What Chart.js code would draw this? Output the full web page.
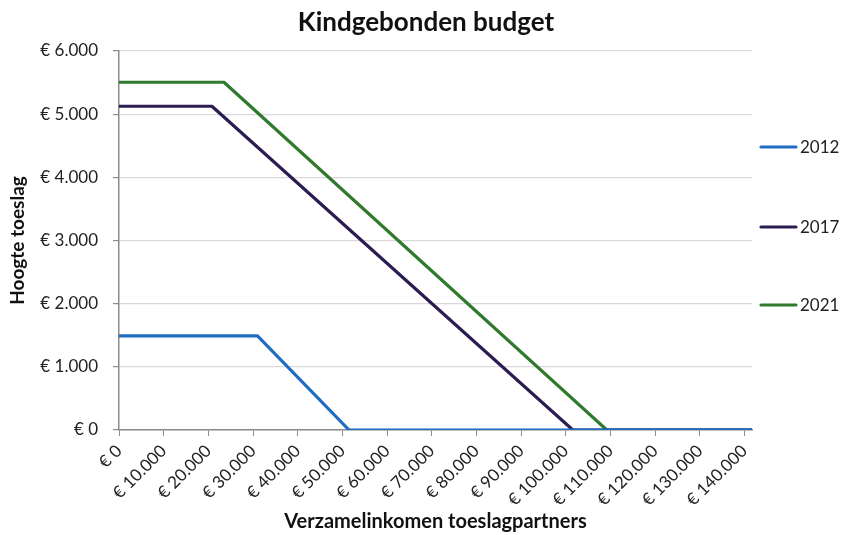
<!DOCTYPE html>
<html>
<head>
<meta charset="utf-8">
<script src="https://cdn.jsdelivr.net/npm/chart.js@4"></script>
<style>
html,body{margin:0;padding:0;background:#fff;}
#wrap{width:853px;height:535px;position:relative;}
</style>
</head>
<body>
<div id="wrap"><canvas id="c" width="853" height="535"></canvas></div>
<script>
const chartTitle = "Kindgebonden budget";
const xTitle = "Verzamelinkomen toeslagpartners";
const yTitle = "Hoogte toeslag";
const seriesNames = ["2012", "2017", "2021"];
const seriesColors = ["#1f6cc2", "#2c1c52", "#2f7a2c"];
// income breakpoints (x) and allowance (y) per series
const x2012 = [0, 31000, 51500, 141700];
const y2012 = [1490, 1490, 0, 0];
const x2017 = [0, 20800, 101600, 141700];
const y2017 = [5125, 5125, 0, 0];
const x2021 = [0, 23500, 109200, 141700];
const y2021 = [5505, 5505, 0, 0];
const xMax = 141700;
const yTicks = [0, 1000, 2000, 3000, 4000, 5000, 6000];
const xTicks = [0,10000,20000,30000,40000,50000,60000,70000,80000,90000,100000,110000,120000,130000,140000];

const FONT = "Lato, 'Open Sans', sans-serif";
function euro(v){ return "€ " + v.toLocaleString('de-DE'); }
function pts(xs, ys){ return xs.map((x,i)=>({x:x, y:ys[i]})); }

const datasets = [pts(x2012,y2012), pts(x2017,y2017), pts(x2021,y2021)].map((d,i)=>({
  label: seriesNames[i], data: d, borderColor: seriesColors[i], backgroundColor: seriesColors[i],
  borderWidth: 3.2, pointRadius: 0, tension: 0, fill: false, borderJoinStyle: 'round', borderCapStyle: 'butt'
}));

const decorPlugin = {
  id: 'decor',
  afterDraw(chart){
    const ctx = chart.ctx;
    ctx.save();
    ctx.fillStyle = '#111';
    ctx.font = "bold 26px " + FONT;
    ctx.textAlign = 'center';
    ctx.textBaseline = 'middle';
    ctx.fillText(chartTitle, 426, 23);
    // legend
    const legY = [147, 227, 305];
    ctx.font = "17px " + FONT;
    ctx.textAlign = 'left';
    chart.data.datasets.forEach((ds,i)=>{
      ctx.strokeStyle = ds.borderColor;
      ctx.lineWidth = 3.2;
      ctx.lineCap = 'round';
      ctx.beginPath();
      ctx.moveTo(761, legY[i]);
      ctx.lineTo(796, legY[i]);
      ctx.stroke();
      ctx.fillStyle = '#222';
      ctx.fillText(ds.label, 800, legY[i]+1);
    });
    ctx.restore();
  }
};

new Chart(document.getElementById('c'), {
  type: 'line',
  data: { datasets },
  plugins: [decorPlugin],
  options: {
    responsive: false,
    animation: false,
    layout: { padding: { left: 0, right: 101, top: 51, bottom: 0 } },
    plugins: { legend: { display: false }, title: { display: false }, tooltip: { enabled: false } },
    scales: {
      x: {
        type: 'linear', min: 0, max: xMax,
        afterBuildTicks(axis){ axis.ticks = xTicks.map(v=>({value:v})); },
        afterFit(axis){ axis.height = 105; },
        ticks: { autoSkip: false, maxRotation: 45, minRotation: 45, padding: 5, color: '#222',
          font: { family: FONT, size: 17 }, callback: v => euro(v) },
        grid: { drawOnChartArea: false, drawTicks: true, tickLength: 6, tickColor: '#8c8c8c' },
        border: { display: true, color: '#8c8c8c', width: 1.5 },
        title: { display: true, text: xTitle, color: '#111', font: { family: FONT, size: 20, weight: 'bold' }, padding: { top: 0, bottom: 1 } }
      },
      y: {
        type: 'linear', min: 0, max: 6000,
        afterBuildTicks(axis){ axis.ticks = yTicks.map(v=>({value:v})); },
        afterFit(axis){ axis.width = 119; },
        ticks: { padding: 15, color: '#222', font: { family: FONT, size: 17 }, callback: v => euro(v) },
        grid: { color: '#d9d9d9', lineWidth: 1.2, drawTicks: true, tickLength: 6, tickColor: '#8c8c8c' },
        border: { display: true, color: '#8c8c8c', width: 1.5 },
        title: { display: true, text: yTitle, color: '#111', font: { family: FONT, size: 19, weight: 'bold' }, padding: { top: 6, bottom: 4 } }
      }
    }
  }
});
</script>
</body>
</html>
